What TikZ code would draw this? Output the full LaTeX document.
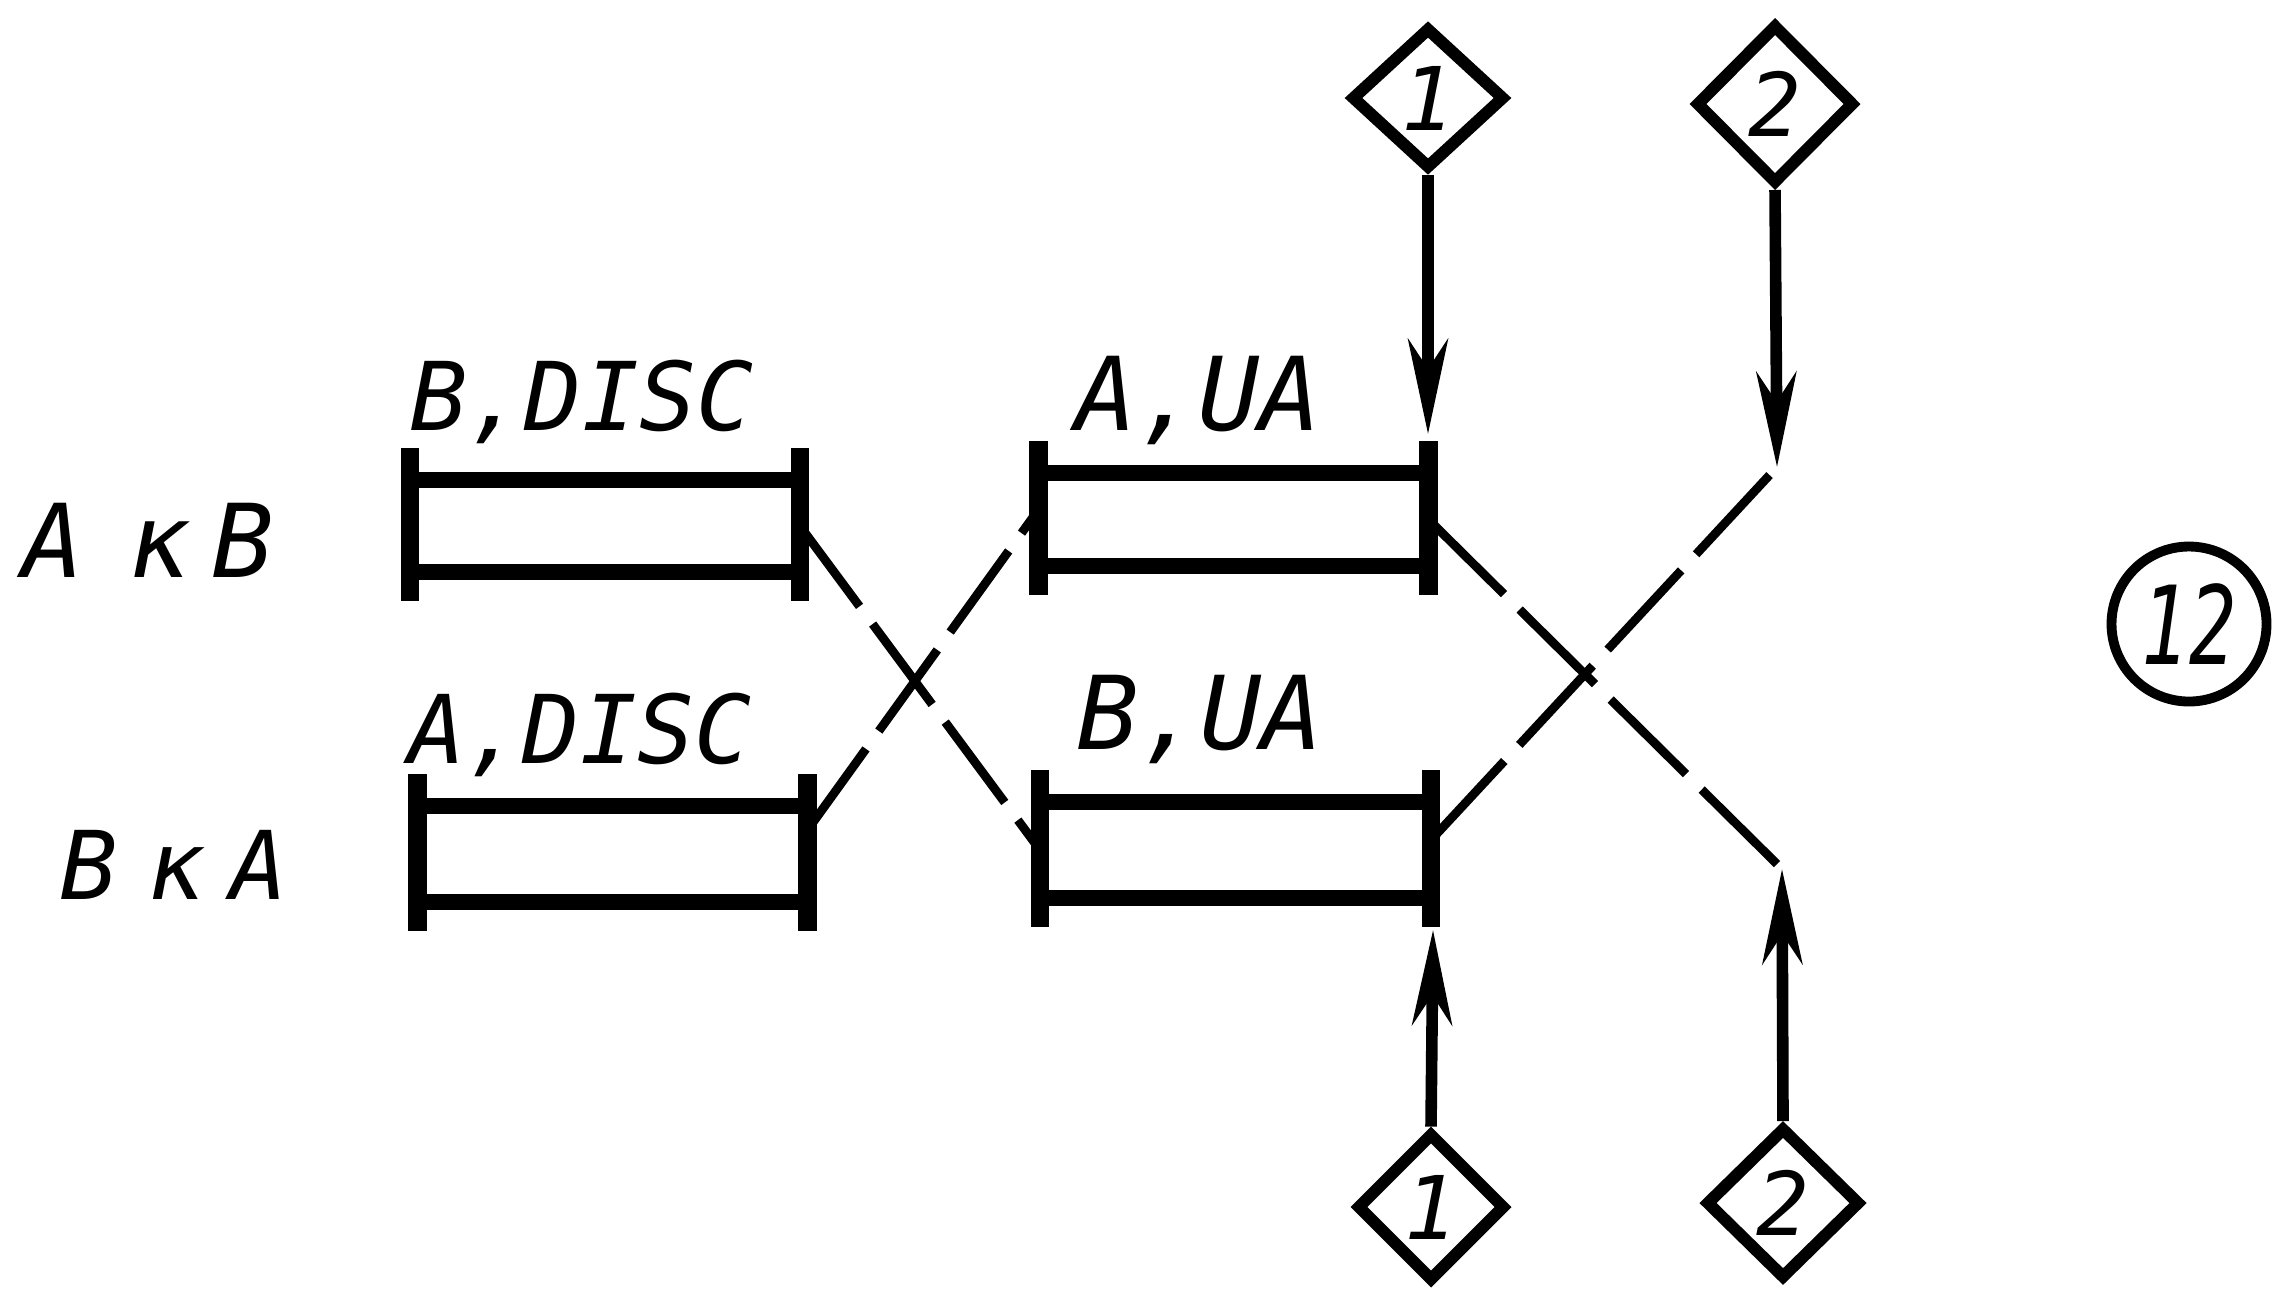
\documentclass[tikz,border=0pt]{standalone}
\usepackage{fontspec}
\usepackage{graphicx}
\setmainfont{DejaVu Sans Mono}
\usetikzlibrary{arrows.meta,shapes.geometric}
\tikzset{
  lab/.style={font=\itshape\fontsize{27pt}{30pt}\selectfont, inner sep=0pt, anchor=base west},
  labbig/.style={font=\itshape\fontsize{29pt}{32pt}\selectfont, inner sep=0pt, anchor=base west},
  boxarea/.style={draw=none, inner sep=0pt, outer sep=0pt, minimum width=3.9cm},
  hline/.style={line width=4.6pt},
  vbar/.style={line width=5.3pt},
  dline/.style={line width=2.5pt, dash pattern=on 1cm off 0.22cm},
  arr/.style={line width=3.3pt, -{Stealth[length=9.5mm,width=4mm,inset=3mm]}},
  dia/.style={diamond, draw, line width=3.4pt, inner sep=0pt, font=\itshape\fontsize{25pt}{28pt}\selectfont},
  circ/.style={circle, draw, line width=2.8pt, minimum size=1.55cm, inner sep=0pt}
}
\begin{document}
\begin{tikzpicture}
\useasboundingbox (0,0) rectangle (22.73,-12.92);
% boxes
\node[boxarea, minimum height=0.92cm] (b1) at (6.05,-5.26) {};
\node[boxarea, minimum height=0.96cm] (b2) at (6.125,-8.54) {};
\node[boxarea, minimum height=0.93cm] (b3) at (12.335,-5.195) {};
\node[boxarea, minimum height=0.96cm, minimum width=3.91cm] (b4) at (12.355,-8.50) {};
\foreach \n in {b1,b2,b3,b4} {
  \draw[hline] (\n.north west) -- (\n.north east) (\n.south west) -- (\n.south east);
  \draw[vbar] ([yshift=0.32cm]\n.north west) -- ([yshift=-0.29cm]\n.south west);
  \draw[vbar] ([yshift=0.32cm]\n.north east) -- ([yshift=-0.29cm]\n.south east);
}
% labels
\node[lab] (l1) at (4.10,-4.30) {B,DISC};
\node[lab] (l2) at (4.08,-7.63) {A,DISC};
\node[labbig] (l3) at (10.75,-4.30) {A,UA};
\node[labbig] (l4) at (10.77,-7.49) {B,UA};
\node[labbig] (r1) at (0.22,-5.77) {A\hspace{0.44em}к\hspace{0.22em}B};
\node[lab] (r2) at (0.60,-8.99) {B\hspace{0.31em}к\hspace{0.28em}A};
% diamonds
\node[dia, minimum width=1.54cm, minimum height=1.42cm] (t1) at (14.28,-0.98) {1};
\node[dia, minimum width=1.59cm, minimum height=1.60cm] (t2) at (17.75,-1.04) {2};
\node[dia, minimum width=1.49cm, minimum height=1.49cm] (d1) at (14.31,-12.07) {1};
\node[dia, minimum width=1.55cm, minimum height=1.52cm] (d2) at (17.83,-12.03) {2};
% arrow end points
\coordinate (e1t) at (14.28,-4.34);
\coordinate (e2t) at (17.77,-4.67);
\coordinate (e1b) at (14.33,-9.30);
\coordinate (e2b) at (17.82,-8.69);
% arrows
\draw[arr] (t1.south) -- (e1t);
\draw[arr] (t2.south) -- (e2t);
\draw[arr] (d1.north) -- (e1b);
\draw[arr] (d2.north) -- (e2b);
% dashed crossing lines
\draw[dline] (b1.east) -- (b4.west);
\draw[dline] ([yshift=0.24cm]b2.east) -- ([yshift=0.1cm]b3.west);
\draw[dline, dash pattern=on 1.06cm off 0.22cm, shorten <=0.07cm] (e2b) -- (b3.east);
\draw[dline, dash pattern=on 1.08cm off 0.22cm, shorten <=0.11cm] (e2t) -- ([yshift=0.1cm]b4.east);
% circled number
\node[circ, font=\itshape\fontsize{31pt}{33pt}\selectfont] (c12) at (21.89,-6.24) {\scalebox{0.72}[1]{12}};
\end{tikzpicture}
\end{document}
